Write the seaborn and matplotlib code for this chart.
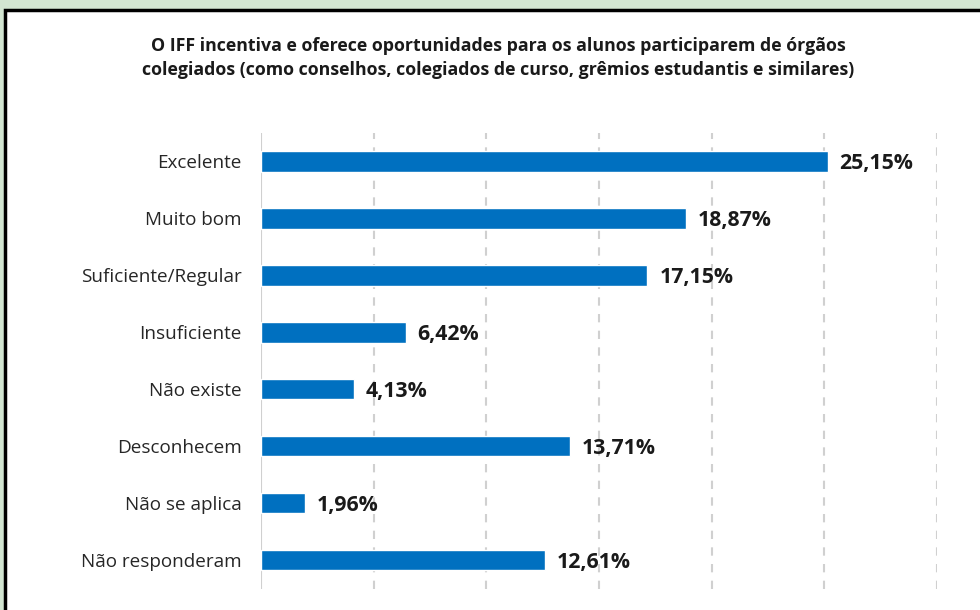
import matplotlib
matplotlib.use("Agg")
import matplotlib.pyplot as plt
import matplotlib.patches as mpatches
import seaborn as sns
import pandas as pd

categories = ["Excelente", "Muito bom", "Suficiente/Regular", "Insuficiente",
              "Não existe", "Desconhecem", "Não se aplica", "Não responderam"]
values = [25.15, 18.87, 17.15, 6.42, 4.13, 13.71, 1.96, 12.61]
value_labels = ["25,15%", "18,87%", "17,15%", "6,42%", "4,13%", "13,71%", "1,96%", "12,61%"]
x_ticks = [0, 5, 10, 15, 20, 25, 30]
title = ("O IFF incentiva e oferece oportunidades para os alunos participarem de órgãos\n"
         "colegiados (como conselhos, colegiados de curso, grêmios estudantis e similares)")

sns.set_theme(style="white")
plt.rcParams['font.family'] = ['Open Sans', 'DejaVu Sans']

df = pd.DataFrame({"categoria": categories, "valor": values})

fig = plt.figure(figsize=(9.8, 6.1), dpi=100)
fig.patch.set_facecolor("#d3e6d2")
# white panel with dark border
panel = mpatches.Rectangle((5 / 980, -0.05), 1.0, 1 - 10 / 610 + 0.05,
                           transform=fig.transFigure, facecolor="white",
                           edgecolor="black", linewidth=2.5, zorder=-10)
fig.patches.append(panel)

ax = fig.add_axes([261 / 980, 1 - 588.5 / 610, 676 / 980, (588.5 - 133) / 610])
ax.set_facecolor("none")
ax.set_zorder(5)

sns.barplot(data=df, x="valor", y="categoria", ax=ax, color="#0070C0",
            saturation=1, width=0.36, orient="h", zorder=3)

ax.set_xlim(0, 30)
ax.set_ylim(len(categories) - 0.5, -0.5)
ax.set_xticks(x_ticks)
ax.set_xticklabels([])
ax.tick_params(axis="x", length=0)
ax.tick_params(axis="y", length=0, pad=14)
for lbl in ax.get_yticklabels():
    lbl.set_fontsize(13.6)
    lbl.set_color("#262626")
ax.set_xlabel("")
ax.set_ylabel("")
for s in ax.spines.values():
    s.set_visible(False)

for xv in x_ticks[1:]:
    ax.axvline(xv, color="#d0d0d0", linestyle=(0, (4, 4)), linewidth=1.5, zorder=1)
ax.axvline(0, color="#d0d0d0", linewidth=1.5, zorder=1)

for i, (v, t) in enumerate(zip(values, value_labels)):
    ax.annotate(t, xy=(v, i), xytext=(8.5, -1.5), textcoords="offset points",
                va="center", ha="left", fontsize=15.3, fontweight="bold",
                color="#1a1a1a")

fig.text(498 / 980, 1 - 58 / 610, title, ha="center", va="center",
         fontsize=12.8, fontweight="bold", color="#1a1a1a", linespacing=1.45)

fig.savefig("out.png", dpi=100, facecolor=fig.get_facecolor())
